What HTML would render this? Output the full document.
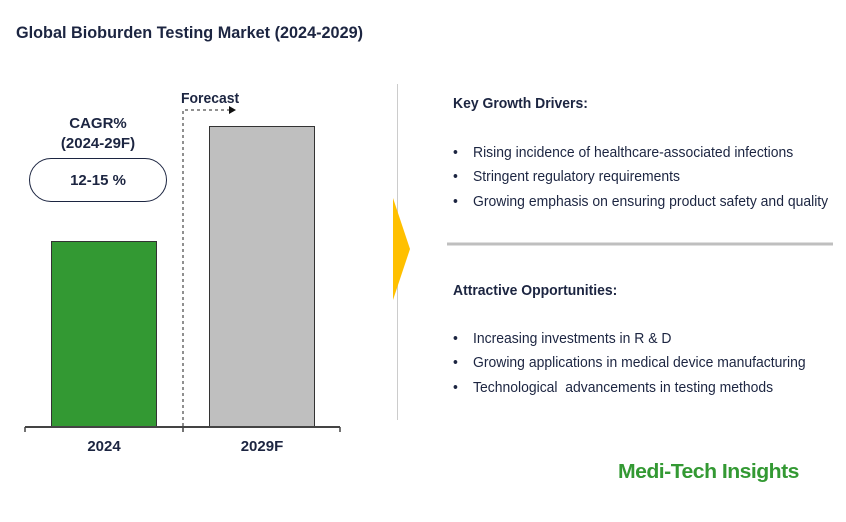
<!DOCTYPE html>
<html><head><style>
body{margin:0;width:846px;height:522px;background:#fff;position:relative;overflow:hidden;font-family:"Liberation Sans",Arial,sans-serif;color:#1c2541}
.a{position:absolute;white-space:nowrap;transform-origin:0 0}
.b{font-weight:bold}
.li{font-size:15px;transform:scaleX(0.93)}
</style></head><body>
<div class="a b" style="left:16px;top:23px;font-size:17px;transform:scaleX(0.955)">Global Bioburden Testing Market (2024-2029)</div>
<svg class="a" style="left:0;top:0" width="846" height="522">
<rect x="51.5" y="241.5" width="105" height="185" fill="#339933" stroke="#333" stroke-width="1"/>
<rect x="209.5" y="126.5" width="105" height="300" fill="#bfbfbf" stroke="#333" stroke-width="1"/>
<line x1="25" y1="427" x2="340" y2="427" stroke="#444" stroke-width="2"/>
<line x1="25" y1="427" x2="25" y2="432" stroke="#444" stroke-width="1.5"/>
<line x1="183" y1="427" x2="183" y2="432" stroke="#444" stroke-width="1.5"/>
<line x1="340" y1="427" x2="340" y2="432" stroke="#444" stroke-width="1.5"/>
<polyline points="183,426 183,110 230,110" fill="none" stroke="#222" stroke-width="1" stroke-dasharray="3,3"/>
<polygon points="229,106 236,110 229,114" fill="#111"/>
<rect x="29.5" y="158.5" width="137" height="43" rx="21.5" fill="#fff" stroke="#1c2541" stroke-width="1"/>
<line x1="397.5" y1="84" x2="397.5" y2="420" stroke="#ccc" stroke-width="1"/>
<polygon points="393,198 410,249 393,300" fill="#ffc000"/>
<line x1="447" y1="244" x2="833" y2="244" stroke="#bfbfbf" stroke-width="3"/>
</svg>
<div class="a b" style="left:181px;top:90px;font-size:15px;transform:scaleX(0.93)">Forecast</div>
<div class="a b" style="left:0;width:196px;text-align:center;top:114px;font-size:15px;line-height:20px">CAGR%<br>(2024-29F)</div>
<div class="a b" style="left:29px;width:138px;text-align:center;top:172px;font-size:15px">12-15 %</div>
<div class="a b" style="left:51px;width:106px;text-align:center;top:438px;font-size:15px">2024</div>
<div class="a b" style="left:209px;width:106px;text-align:center;top:438px;font-size:15px">2029F</div>
<div class="a b" style="left:453px;top:95px;font-size:15px;transform:scaleX(0.93)">Key Growth Drivers:</div>
<div class="a li" style="left:453px;top:144px">•</div><div class="a li" style="left:473px;top:144px">Rising incidence of healthcare-associated infections</div>
<div class="a li" style="left:453px;top:168px">•</div><div class="a li" style="left:473px;top:168px">Stringent regulatory requirements</div>
<div class="a li" style="left:453px;top:193px">•</div><div class="a li" style="left:473px;top:193px">Growing emphasis on ensuring product safety and quality</div>
<div class="a b" style="left:453px;top:282px;font-size:15px;transform:scaleX(0.93)">Attractive Opportunities:</div>
<div class="a li" style="left:453px;top:330px">•</div><div class="a li" style="left:473px;top:330px">Increasing investments in R &amp; D</div>
<div class="a li" style="left:453px;top:354px">•</div><div class="a li" style="left:473px;top:354px">Growing applications in medical device manufacturing</div>
<div class="a li" style="left:453px;top:379px">•</div><div class="a li" style="left:473px;top:379px">Technological&nbsp; advancements in testing methods</div>
<div class="a b" style="left:618px;top:461px;font-size:20px;color:#339933;letter-spacing:-0.5px;transform:scaleX(1.06)">Medi-Tech Insights</div>
</body></html>
